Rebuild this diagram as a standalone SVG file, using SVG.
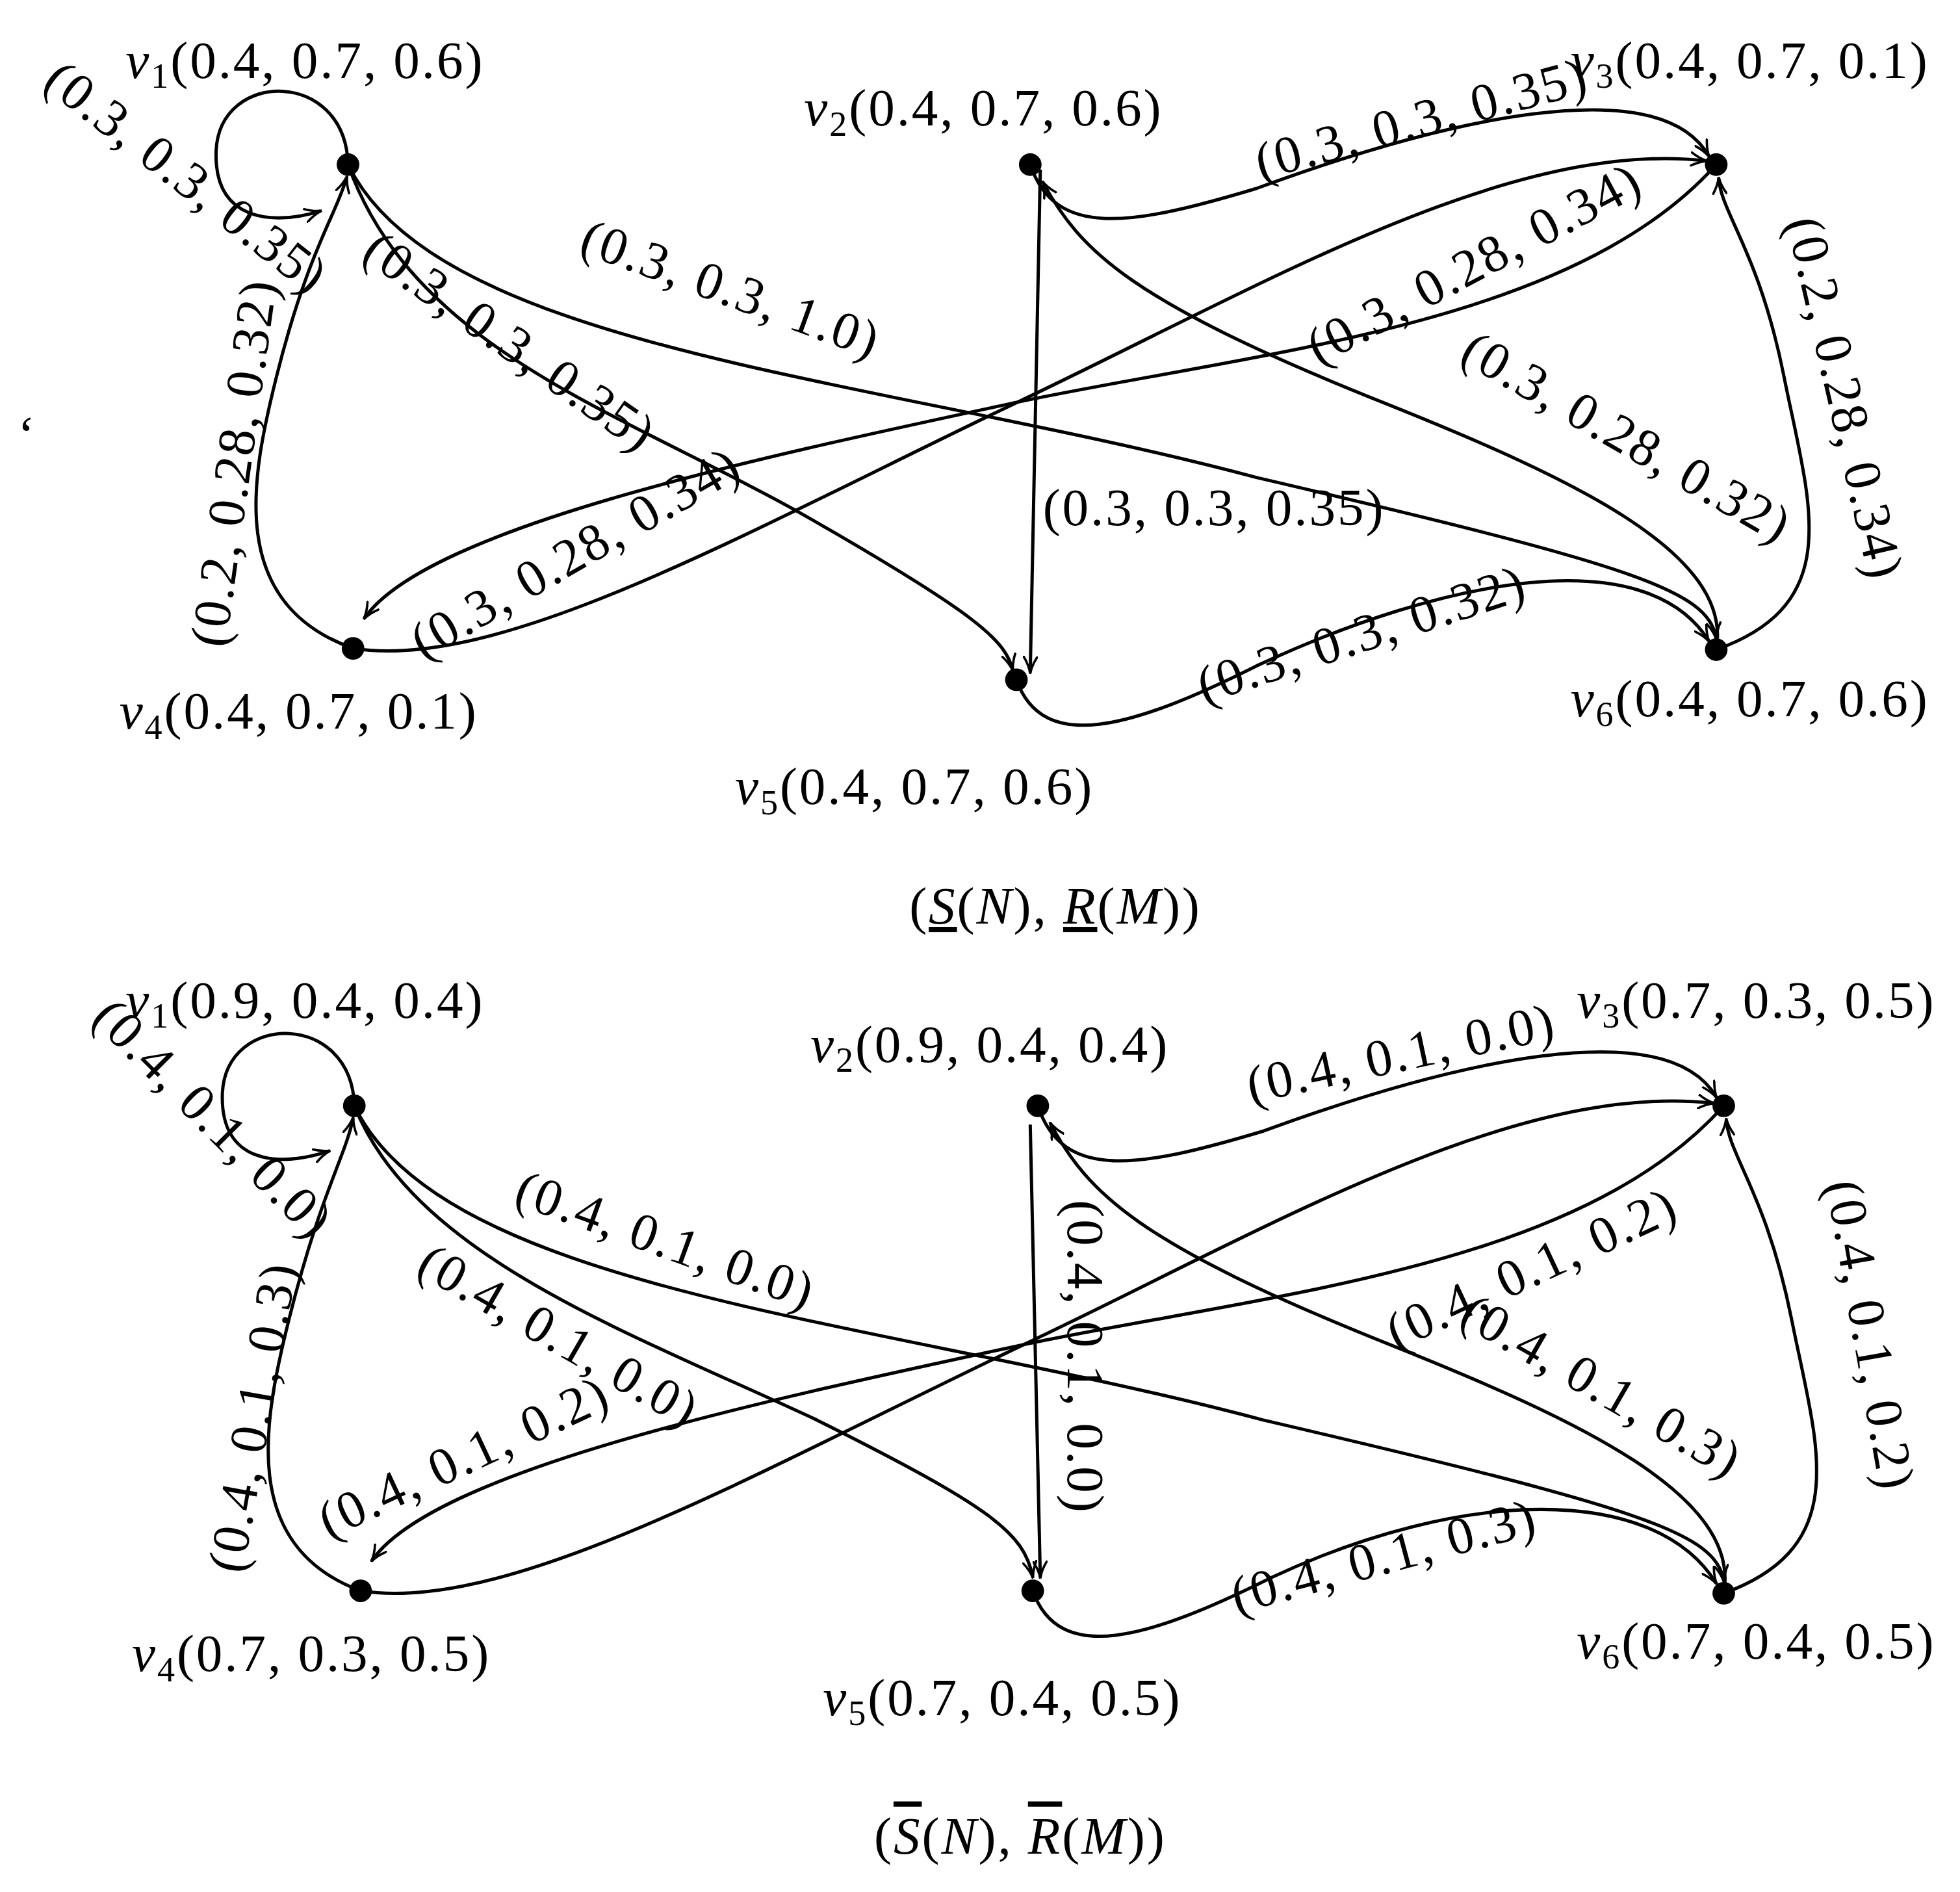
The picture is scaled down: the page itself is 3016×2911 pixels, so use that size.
<svg xmlns="http://www.w3.org/2000/svg" width="3016" height="2911" viewBox="0 0 3016 2911">
<style>
.e{fill:none;stroke:#000;stroke-width:2.6;marker-end:url(#ar)}
text{font-family:"Liberation Serif","DejaVu Serif",serif;font-size:42px;letter-spacing:1.5px;fill:#000}
.v{font-style:italic}
.s{font-size:28px}
.n{fill:#000}
</style>
<defs>
<marker id="ar" viewBox="0 0 12 10" refX="11" refY="5" markerWidth="14" markerHeight="12" markerUnits="userSpaceOnUse" orient="auto">
<path d="M0,0 Q6,4 12,5 Q6,6 0,10" fill="none" stroke="#000" stroke-width="1.6"/>
</marker>
</defs>
<rect width="3016" height="2911" fill="#fff"/>
<g transform="scale(1.9333)">
<g id="connectors">
<path class="e" d="M277,131 C275,55 175,55 172,120 C170,175 215,180 255,168"/>
<path class="e" d="M277,131 C350,280 700,300 1000,380 C1300,450 1360,470 1366,508"/>
<path class="e" d="M277,131 C330,280 500,330 640,410 C780,490 800,510 806,533"/>
<path class="e" d="M281,516 C180,480 200,380 220,300 C245,200 268,170 276,141"/>
<path class="e" d="M281,516 C400,535 600,420 810,320 C1000,230 1200,110 1358,128"/>
<path class="e" d="M1366,131 C1250,260 1000,280 810,320 C600,365 340,420 290,492"/>
<path class="e" d="M820,131 C840,190 900,180 1000,150 C1150,95 1320,55 1360,124"/>
<path class="e" d="M828,135 L820,535"/>
<path class="e" d="M1366,517 C1380,440 1250,380 1100,320 C900,240 860,200 830,145"/>
<path class="e" d="M1366,517 C1470,480 1440,400 1420,300 C1400,200 1370,170 1368,142"/>
<path class="e" d="M809,541 C830,600 900,580 1000,530 C1150,460 1310,430 1360,510"/>

<path class="e" d="M282,880 C280,805 180,805 177,870 C175,925 220,930 262,916"/>
<path class="e" d="M282,880 C355,1030 705,1050 1005,1130 C1305,1200 1366,1220 1372,1258"/>
<path class="e" d="M282,880 C330,1000 500,1060 650,1130 C790,1200 815,1220 822,1255"/>
<path class="e" d="M287,1266 C190,1230 210,1130 230,1050 C255,950 275,920 281,890"/>
<path class="e" d="M287,1266 C405,1285 605,1170 815,1070 C1005,980 1205,860 1364,878"/>
<path class="e" d="M1372,880 C1256,1010 1006,1030 815,1070 C606,1115 346,1170 296,1242"/>
<path class="e" d="M826,880 C846,940 906,930 1006,900 C1156,845 1326,805 1366,873"/>
<path class="e" d="M820,895 L828,1255"/>
<path class="e" d="M1372,1268 C1386,1190 1256,1130 1106,1070 C906,990 866,950 836,894"/>
<path class="e" d="M1372,1268 C1476,1230 1446,1150 1426,1050 C1406,950 1376,920 1374,891"/>
<path class="e" d="M822,1266 C843,1325 913,1305 1013,1255 C1163,1185 1316,1180 1366,1260"/>
</g>
<g id="v1"><circle class="n" cx="277" cy="131" r="9"/><text x="100" y="62"><tspan class="v">v</tspan><tspan class="s" dy="8">1</tspan><tspan dy="-8">(0.4, 0.7, 0.6)</tspan></text></g>
<g id="v2"><circle class="n" cx="820" cy="131" r="9"/><text x="640" y="100"><tspan class="v">v</tspan><tspan class="s" dy="8">2</tspan><tspan dy="-8">(0.4, 0.7, 0.6)</tspan></text></g>
<g id="v3"><circle class="n" cx="1366" cy="131" r="9"/><text x="1250" y="62"><tspan class="v">v</tspan><tspan class="s" dy="8">3</tspan><tspan dy="-8">(0.4, 0.7, 0.1)</tspan></text></g>
<g id="v4"><circle class="n" cx="281" cy="516" r="9"/><text x="95" y="580"><tspan class="v">v</tspan><tspan class="s" dy="8">4</tspan><tspan dy="-8">(0.4, 0.7, 0.1)</tspan></text></g>
<g id="v5"><circle class="n" cx="809" cy="541" r="9"/><text x="585" y="640"><tspan class="v">v</tspan><tspan class="s" dy="8">5</tspan><tspan dy="-8">(0.4, 0.7, 0.6)</tspan></text></g>
<g id="v6"><circle class="n" cx="1366" cy="517" r="9"/><text x="1250" y="570"><tspan class="v">v</tspan><tspan class="s" dy="8">6</tspan><tspan dy="-8">(0.4, 0.7, 0.6)</tspan></text></g>
<g id="labels1">
<text transform="translate(140,152) rotate(38)" text-anchor="middle">(0.3, 0.3, 0.35)</text>
<text transform="translate(200,370) rotate(-82)" text-anchor="middle">(0.2, 0.28, 0.32)</text>
<text transform="translate(398,283) rotate(35)" text-anchor="middle">(0.3, 0.3, 0.35)</text>
<text transform="translate(577,243) rotate(20)" text-anchor="middle">(0.3, 0.3, 1.0)</text>
<text x="830" y="418">(0.3, 0.3, 0.35)</text>
<text transform="translate(1180,222) rotate(-28)" text-anchor="middle">(0.3, 0.28, 0.34)</text>
<text transform="translate(465,452) rotate(-30)" text-anchor="middle">(0.3, 0.28, 0.34)</text>
<text transform="translate(1135,108) rotate(-15)" text-anchor="middle">(0.3, 0.3, 0.35)</text>
<text transform="translate(1288,360) rotate(30)" text-anchor="middle">(0.3, 0.28, 0.32)</text>
<text transform="translate(1455,320) rotate(77)" text-anchor="middle">(0.2, 0.28, 0.34)</text>
<text transform="translate(1088,518) rotate(-18)" text-anchor="middle">(0.3, 0.3, 0.32)</text>
<text x="14" y="360">‘</text>
<text x="840" y="735" text-anchor="middle">(<tspan class="v" text-decoration="underline">S</tspan>(<tspan class="v">N</tspan>), <tspan class="v" text-decoration="underline">R</tspan>(<tspan class="v">M</tspan>))</text>
</g>
<g id="w1"><circle class="n" cx="282" cy="880" r="9"/><text x="100" y="810"><tspan class="v">v</tspan><tspan class="s" dy="8">1</tspan><tspan dy="-8">(0.9, 0.4, 0.4)</tspan></text></g>
<g id="w2"><circle class="n" cx="826" cy="880" r="9"/><text x="645" y="845"><tspan class="v">v</tspan><tspan class="s" dy="8">2</tspan><tspan dy="-8">(0.9, 0.4, 0.4)</tspan></text></g>
<g id="w3"><circle class="n" cx="1372" cy="880" r="9"/><text x="1255" y="810"><tspan class="v">v</tspan><tspan class="s" dy="8">3</tspan><tspan dy="-8">(0.7, 0.3, 0.5)</tspan></text></g>
<g id="w4"><circle class="n" cx="287" cy="1266" r="9"/><text x="105" y="1330"><tspan class="v">v</tspan><tspan class="s" dy="8">4</tspan><tspan dy="-8">(0.7, 0.3, 0.5)</tspan></text></g>
<g id="w5"><circle class="n" cx="822" cy="1266" r="9"/><text x="655" y="1365"><tspan class="v">v</tspan><tspan class="s" dy="8">5</tspan><tspan dy="-8">(0.7, 0.4, 0.5)</tspan></text></g>
<g id="w6"><circle class="n" cx="1372" cy="1268" r="9"/><text x="1255" y="1320"><tspan class="v">v</tspan><tspan class="s" dy="8">6</tspan><tspan dy="-8">(0.7, 0.4, 0.5)</tspan></text></g>
<g id="labels2">
<text transform="translate(160,900) rotate(45)" text-anchor="middle">(0.4, 0.1, 0.0)</text>
<text transform="translate(215,1130) rotate(-80)" text-anchor="middle">(0.4, 0.1, 0.3)</text>
<text transform="translate(438,1075) rotate(30)" text-anchor="middle">(0.4, 0.1, 0.0)</text>
<text transform="translate(525,1000) rotate(20)" text-anchor="middle">(0.4, 0.1, 0.0)</text>
<text transform="translate(850,1080) rotate(90)" text-anchor="middle">(0.4, 0.1, 0.0)</text>
<text transform="translate(375,1172) rotate(-25)" text-anchor="middle">(0.4, 0.1, 0.2)</text>
<text transform="translate(1225,1022) rotate(-25)" text-anchor="middle">(0.4, 0.1, 0.2)</text>
<text transform="translate(1118,852) rotate(-12)" text-anchor="middle">(0.4, 0.1, 0.0)</text>
<text transform="translate(1268,1115) rotate(30)" text-anchor="middle">(0.4, 0.1, 0.3)</text>
<text transform="translate(1475,1065) rotate(80)" text-anchor="middle">(0.4, 0.1, 0.2)</text>
<text transform="translate(1105,1252) rotate(-15)" text-anchor="middle">(0.4, 0.1, 0.3)</text>
<text x="812" y="1475" text-anchor="middle">(<tspan class="v" text-decoration="overline">S</tspan>(<tspan class="v">N</tspan>), <tspan class="v" text-decoration="overline">R</tspan>(<tspan class="v">M</tspan>))</text>
</g>
</g>
</svg>
